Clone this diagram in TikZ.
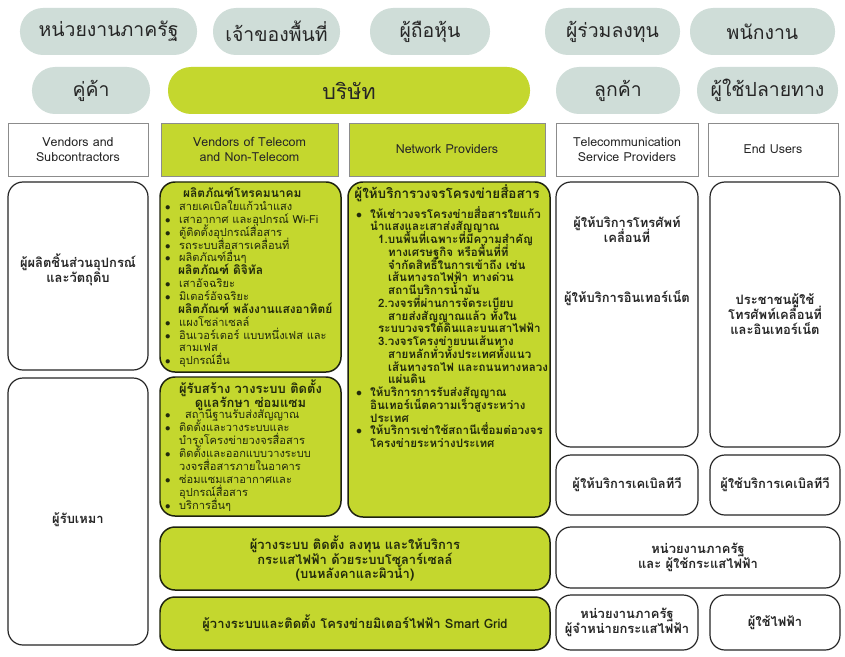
\documentclass[tikz,border=0pt]{standalone}
\usepackage{fontspec}
\setmainfont{Loma}[Script=Thai]
\usetikzlibrary{positioning}
\definecolor{pillgray}{HTML}{CFDDD8}
\definecolor{lime}{HTML}{C4D72E}
\definecolor{ink}{HTML}{262626}
\definecolor{olive}{HTML}{222A0C}
\definecolor{headgray}{HTML}{8C8C8C}
\definecolor{boxline}{HTML}{1E220F}
\newcommand\bul{\makebox[14bp][l]{$\bullet$}}
\newcommand\ind[1]{\hspace*{#1bp}}
\lineskiplimit=-20pt

\begin{document}
\begin{tikzpicture}[x=1bp,y=-1bp,
  pill/.style={fill=pillgray, rounded corners=23bp, inner sep=0pt, minimum height=47bp, text=ink, font=\fontsize{19.5}{22}\selectfont},
  head/.style={draw=headgray, line width=0.8pt, inner sep=0pt, minimum height=53bp, align=center, text=ink, font=\fontsize{12.5}{15}\selectfont},
  card/.style={draw=ink, line width=1.2pt, rounded corners=15bp, inner sep=0pt, align=center, text=ink, font=\bfseries\fontsize{13}{15}\selectfont},
  lcard/.style={card, fill=lime, draw=boxline, line width=1.5pt, text=olive},
  cardtext/.style={align=center, text=ink, font=\bfseries\fontsize{13}{15}\selectfont},
  list/.style={anchor=north west, inner sep=0pt, align=left, text=olive, font=\fontsize{11.1}{12.9}\selectfont}]
\path[fill=white] (0,0) rectangle (845,657);

\node[pill, minimum width=177bp] (gov) at (108.5,31.5) {หน่วยงานภาครัฐ};
\node[pill, minimum width=127bp] (owner) at (276.5,31.5) {เจ้าของพื้นที่};
\node[pill, minimum width=120bp] (holder) at (430,31.5) {ผู้ถือหุ้น};
\node[pill, minimum width=135bp] (partner) at (612.5,31.5) {ผู้ร่วมลงทุน};
\node[pill, minimum width=145bp] (staff) at (762.5,31.5) {พนักงาน};
\node[pill, minimum width=118bp] (trader) at (91,90.5) {คู่ค้า};
\node[pill, minimum width=362bp, fill=lime, font=\fontsize{21.5}{24}\selectfont] (company) at (349,90.5) {บริษัท};
\node[pill, minimum width=124bp] (customer) at (618,90.5) {ลูกค้า};
\node[pill, minimum width=141bp] (enduser) at (767.5,90.5) {ผู้ใช้ปลายทาง};

\node[head, minimum width=140bp] (hvs) at (78,149.5) {Vendors and\\Subcontractors};
\node[head, minimum width=177bp, fill=lime] (hvt) at (249.5,149.5) {Vendors of Telecom\\and Non-Telecom};
\node[head, minimum width=196bp, fill=lime] (hnp) at (447,149.5) {Network Providers};
\node[head, minimum width=142bp] (htsp) at (627,149.5) {Telecommunication\\Service Providers};
\node[head, minimum width=130bp] (heu) at (773,149.5) {End Users};

\node[card, minimum width=140bp, minimum height=188bp] (maker) at (78,276) {};
\node[cardtext] (makertxt) at (78,270) {ผู้ผลิตชิ้นส่วนอุปกรณ์\\และวัตถุดิบ};
\node[card, minimum width=140bp, minimum height=267bp] (contractor) at (78,511.5) {};
\node[cardtext] (contractortxt) at (78,520) {ผู้รับเหมา};

\node[lcard, minimum width=181bp, minimum height=190bp] (products) at (250.5,277) {};
\node[list] (productlist) at (165,187) {%
{\bfseries\fontsize{12}{12.9}\selectfont\ind{18}ผลิตภัณฑ์โทรคมนาคม}\\
\bul สายเคเบิลใยแก้วนำแสง\\
\bul เสาอากาศ และอุปกรณ์ Wi-Fi\\
\bul ตู้ติดตั้งอุปกรณ์สื่อสาร\\
\bul รถระบบสื่อสารเคลื่อนที่\\
\bul ผลิตภัณฑ์อื่นๆ\\
{\bfseries\fontsize{12}{12.9}\selectfont\ind{13}ผลิตภัณฑ์ ดิจิทัล}\\
\bul เสาอัจฉริยะ\\
\bul มิเตอร์อัจฉริยะ\\
{\bfseries\fontsize{12}{12.9}\selectfont\ind{13}ผลิตภัณฑ์ พลังงานแสงอาทิตย์}\\
\bul แผงโซล่าเซลล์\\
\bul อินเวอร์เตอร์ แบบหนึ่งเฟส และ\\
\ind{14}สามเฟส\\
\bul อุปกรณ์อื่น};

\node[lcard, minimum width=181bp, minimum height=139bp] (builders) at (250.5,446.5) {};
\node (buildershead) at (250.5,395) [align=center, text=olive, font=\bfseries\fontsize{13}{14.5}\selectfont] {ผู้รับสร้าง วางระบบ ติดตั้ง\\ดูแลรักษา ซ่อมแซม};
\node[list, font=\fontsize{11.1}{13.1}\selectfont] (builderlist) at (165,409) {%
\bul\ind{6}สถานีฐานรับส่งสัญญาณ\\
\bul ติดตั้งและวางระบบและ\\
\ind{14}บำรุงโครงข่ายวงจรสื่อสาร\\
\bul ติดตั้งและออกแบบวางระบบ\\
\ind{14}วงจรสื่อสารภายในอาคาร\\
\bul ซ่อมแซมเสาอากาศและ\\
\ind{14}อุปกรณ์สื่อสาร\\
\bul บริการอื่นๆ};

\node[lcard, minimum width=202bp, minimum height=335bp] (network) at (449,349.5) {};
\node (networkhead) at (447,193) [text=olive, font=\bfseries\fontsize{13.5}{16}\selectfont] {ผู้ให้บริการวงจรโครงข่ายสื่อสาร};
\node[list, font=\bfseries\fontsize{11.6}{12.8}\selectfont] (networklist) at (356,206) {%
\bul ให้เช่าวงจรโครงข่ายสื่อสารใยแก้ว\\
\ind{14}นำแสงและเสาส่งสัญญาณ\\
\ind{22}1.บนพื้นที่เฉพาะที่มีความสำคัญ\\
\ind{32}ทางเศรษฐกิจ หรือพื้นที่ที่\\
\ind{32}จำกัดสิทธิ์ในการเข้าถึง เช่น\\
\ind{32}เส้นทางรถไฟฟ้า ทางด่วน\\
\ind{32}สถานีบริการน้ำมัน\\
\ind{22}2.วงจรที่ผ่านการจัดระเบียบ\\
\ind{32}สายส่งสัญญาณแล้ว ทั้งใน\\
\ind{22}ระบบวงจรใต้ดินและบนเสาไฟฟ้า\\
\ind{22}3.วงจรโครงข่ายบนเส้นทาง\\
\ind{32}สายหลักทั่วทั้งประเทศทั้งแนว\\
\ind{32}เส้นทางรถไฟ และถนนทางหลวง\\
\ind{32}แผ่นดิน\\
\bul ให้บริการการรับส่งสัญญาณ\\
\ind{14}อินเทอร์เน็ตความเร็วสูงระหว่าง\\
\ind{14}ประเทศ\\
\bul ให้บริการเช่าใช้สถานีเชื่อมต่อวงจร\\
\ind{14}โครงข่ายระหว่างประเทศ};

\node[lcard, minimum width=390bp, minimum height=63bp, font=\bfseries\fontsize{13}{14.5}\selectfont] (solar) at (355,558.5) {ผู้วางระบบ ติดตั้ง ลงทุน และให้บริการ\\กระแสไฟฟ้า ด้วยระบบโซลาร์เซลล์\\(บนหลังคาและผิวน้ำ)};
\node[lcard, minimum width=390bp, minimum height=53bp, font=\bfseries\fontsize{13}{15}\selectfont] (grid) at (355,623.5) {ผู้วางระบบและติดตั้ง โครงข่ายมิเตอร์ไฟฟ้า Smart Grid};

\node[card, minimum width=142bp, minimum height=265bp] (tsp) at (627,314.5) {};
\node[cardtext] (tspmobile) at (627,229) {ผู้ให้บริการโทรศัพท์\\เคลื่อนที่};
\node[cardtext] (tspnet) at (627,298) {ผู้ให้บริการอินเทอร์เน็ต};
\node[card, minimum width=130bp, minimum height=265bp] (eu) at (775,314.5) {ประชาชนผู้ใช้\\โทรศัพท์เคลื่อนที่\\และอินเทอร์เน็ต};
\node[card, minimum width=142bp, minimum height=60bp] (catv) at (627,485) {ผู้ให้บริการเคเบิลทีวี};
\node[card, minimum width=130bp, minimum height=60bp] (catvuser) at (775,485) {ผู้ใช้บริการเคเบิลทีวี};
\node[card, minimum width=284bp, minimum height=61bp] (govuser) at (698,557.5) {หน่วยงานภาครัฐ\\และ ผู้ใช้กระแสไฟฟ้า};
\node[card, minimum width=142bp, minimum height=55bp] (govseller) at (627,622.5) {หน่วยงานภาครัฐ\\ผู้จำหน่ายกระแสไฟฟ้า};
\node[card, minimum width=130bp, minimum height=55bp] (power) at (775,622.5) {ผู้ใช้ไฟฟ้า};
\end{tikzpicture}
\end{document}
